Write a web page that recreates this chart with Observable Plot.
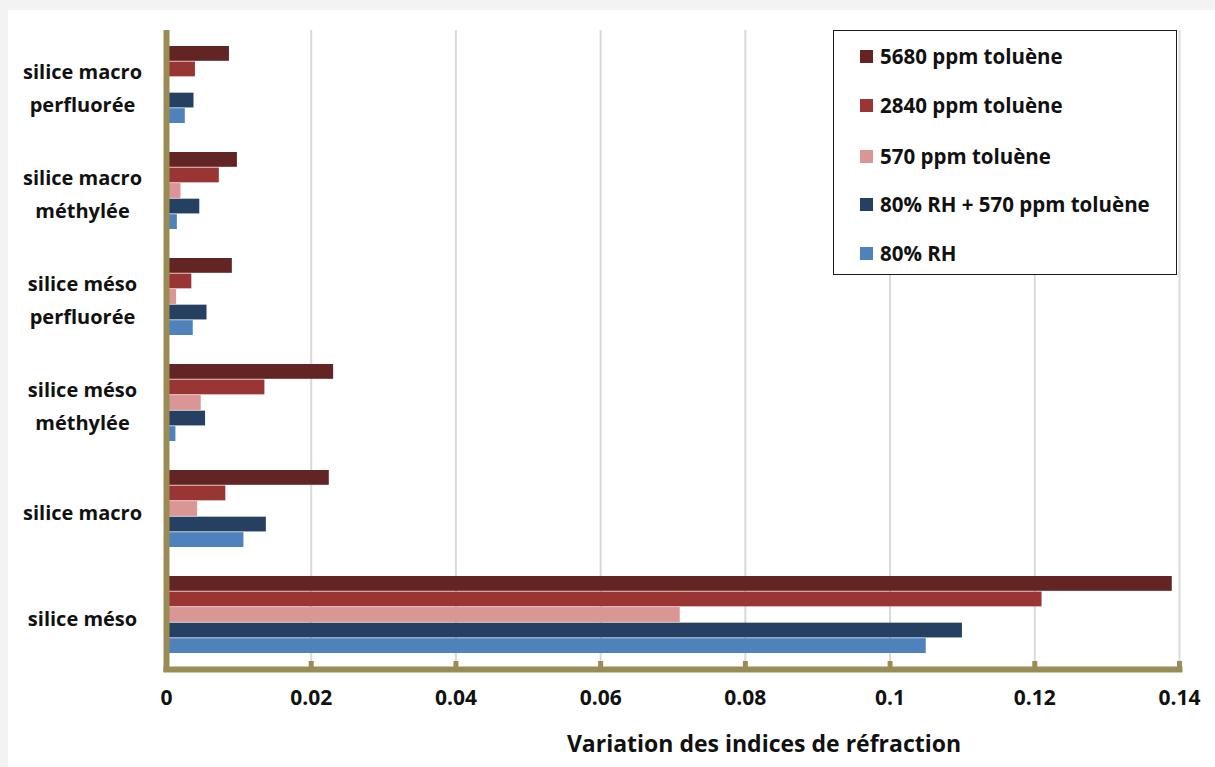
<!DOCTYPE html>
<html>
<head>
<meta charset="utf-8">
<script src="https://cdn.jsdelivr.net/npm/d3@7"></script>
<script src="https://cdn.jsdelivr.net/npm/@observablehq/plot@0.6"></script>
<style>
  html, body { margin: 0; padding: 0; background: #f3f3f3; }
  #wrap { position: relative; width: 1215px; height: 767px; overflow: hidden; }
  #panel { position: absolute; left: 8px; top: 10px; right: 0; bottom: 0; background: #ffffff; }
  #chart { position: absolute; left: 0; top: 0; }
  #legend { position: absolute; left: 833px; top: 30px; width: 344px; height: 245px;
            border: 1.5px solid #1a1a1a; background: #fff; box-sizing: border-box;
            font-family: "Open Sans", sans-serif; font-weight: 700; font-size: 20.5px; color: #111; }
  .item { position: absolute; left: 26px; display: flex; align-items: center; height: 26px; white-space: nowrap; }
  .sw { width: 13px; height: 13px; margin-right: 7px; }
</style>
</head>
<body>
<div id="wrap">
  <div id="panel"></div>
  <div id="chart"></div>
  <div id="legend"></div>
</div>
<script>
// ---- data ----
const categories = [
  "silice macro\nperfluorée",
  "silice macro\nméthylée",
  "silice méso\nperfluorée",
  "silice méso\nméthylée",
  "silice macro",
  "silice méso"
];
const series = [
  "5680 ppm toluène",
  "2840 ppm toluène",
  "570 ppm toluène",
  "80% RH + 570 ppm toluène",
  "80% RH"
];
const colors = ["#632523", "#993634", "#d99694", "#254061", "#4f81bd"];
const v5680   = [0.0087, 0.0098, 0.0091, 0.0231, 0.0225, 0.139];
const v2840   = [0.0040, 0.0073, 0.0035, 0.0136, 0.0082, 0.121];
const v570    = [0.0000, 0.0020, 0.0014, 0.0048, 0.0043, 0.071];
const vRH570  = [0.0038, 0.0046, 0.0056, 0.0054, 0.0138, 0.110];
const vRH     = [0.0026, 0.0015, 0.0037, 0.0013, 0.0107, 0.105];
const xTicks = [0, 0.02, 0.04, 0.06, 0.08, 0.1, 0.12, 0.14];
const xTitle = "Variation des indices de réfraction";

const seriesValues = [v5680, v2840, v570, vRH570, vRH];
const rows = [];
series.forEach((s, i) => categories.forEach((c, j) => rows.push({category: c, series: s, value: seriesValues[i][j]})));

// ---- layout ----
const W = 1215, H = 767;
const mt = 30, mb = 98, ml = 166, mr = 36;
const pIn = 0.27, pOut = 0.135;
const step = (H - mt - mb) / (categories.length - pIn + 2 * pOut);
const band = step * (1 - pIn);
const slot = band / series.length;
const olive = "#9a8c55";
const font = "'Open Sans', sans-serif";

const barMarks = series.map((s, i) => Plot.barX(rows.filter(d => d.series === s), {
  x: "value", y: "category", fill: colors[i],
  insetTop: i * slot, insetBottom: (series.length - 1 - i) * slot
}));

const chart = Plot.plot({
  width: W, height: H,
  marginTop: mt, marginBottom: mb, marginLeft: ml, marginRight: mr,
  style: {fontFamily: font, background: "transparent"},
  x: {domain: [0, 0.14], ticks: xTicks},
  y: {domain: categories, paddingInner: pIn, paddingOuter: pOut, axis: null},
  marks: [
    Plot.gridX(xTicks, {stroke: "#d9d9d9", strokeOpacity: 1, strokeWidth: 2}),
    ...barMarks,
    Plot.ruleX([0], {stroke: olive, strokeWidth: 6, insetBottom: -3}),
    Plot.frame({anchor: "bottom", stroke: olive, strokeWidth: 6}),
    Plot.ruleX(xTicks.slice(1), {x: d => d, stroke: olive, strokeWidth: 5, insetTop: H - mt - mb - 8}),
    Plot.axisX(xTicks, {tickSize: 0, tickPadding: 21, tickFormat: d => String(+d.toFixed(2)),
      fontSize: 21, fontWeight: 700, fill: "#111", label: null}),
    Plot.text(categories, {y: d => d, text: d => d, frameAnchor: "left", dx: -84,
      textAnchor: "middle", lineHeight: 1.65, fontSize: 20, fontWeight: 700, fill: "#111"}),
    Plot.text([xTitle], {text: d => d, frameAnchor: "bottom", dx: 91, dy: 82,
      fontSize: 23, fontWeight: 700, fill: "#111"})
  ]
});
document.getElementById("chart").appendChild(chart);

// ---- legend ----
const leg = document.getElementById("legend");
const rowTops = [12, 61, 112, 160, 209];
series.forEach((s, i) => {
  const it = document.createElement("div");
  it.className = "item";
  it.style.top = rowTops[i] + "px";
  const sw = document.createElement("div");
  sw.className = "sw";
  sw.style.background = colors[i];
  const tx = document.createElement("span");
  tx.textContent = s;
  it.appendChild(sw); it.appendChild(tx);
  leg.appendChild(it);
});
</script>
</body>
</html>
